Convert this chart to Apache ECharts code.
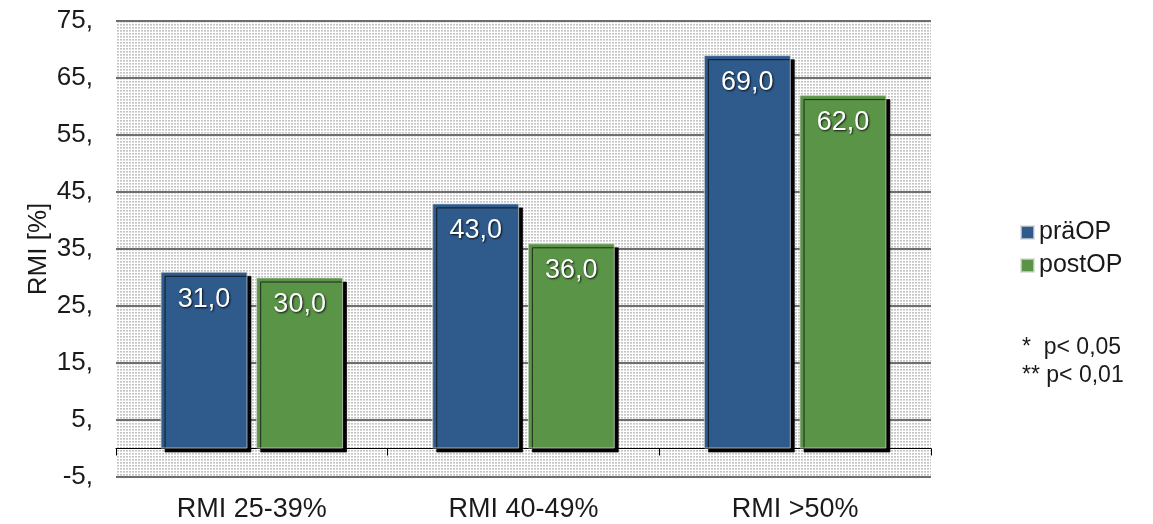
<!DOCTYPE html>
<html>
<head>
<meta charset="utf-8">
<script src="https://cdn.jsdelivr.net/npm/echarts@6/dist/echarts.min.js"></script>
<style>
  html, body { margin: 0; padding: 0; background: #ffffff; }
  #chart { width: 1153px; height: 524px; }
</style>
</head>
<body>
<div id="chart"></div>
<script>
// RMI groups and the share of patients before / after the operation
const categories = ['RMI 25-39%', 'RMI 40-49%', 'RMI >50%'];
const preOp = [31.0, 43.0, 69.0];
const postOp = [30.0, 36.0, 62.0];
const seriesNames = ['präOP', 'postOP'];
const significanceNotes = ['*  p< 0,05', '** p< 0,01'];

const FONT = '"Liberation Sans", Arial, sans-serif';
const BLUE = '#2e5a8c';
const GREEN = '#5a9447';

// fine dotted fill for the plotting area
function dotPattern() {
  const c = document.createElement('canvas');
  c.width = 3; c.height = 3;
  const g = c.getContext('2d');
  g.fillStyle = '#ffffff';
  g.fillRect(0, 0, 3, 3);
  g.fillStyle = '#c4c4c4';
  g.fillRect(0, 0, 2, 1);
  g.fillStyle = '#dadada';
  g.fillRect(0, 1, 2, 1);
  return c;
}

const decimalComma = v => v.toFixed(1).replace('.', ',');

const barLabel = {
  show: true,
  position: 'insideTop',
  distance: 14,
  color: '#ffffff',
  fontFamily: FONT,
  fontSize: 27,
  textShadowColor: 'rgba(0,0,0,0.85)',
  textShadowOffsetX: 1,
  textShadowOffsetY: 1,
  textShadowBlur: 2,
  formatter: p => decimalComma(p.value)
};

function barStyle(color) {
  return {
    color: color,
    borderColor: 'rgba(215,215,215,0.7)',
    borderWidth: 1,
    shadowColor: '#000000',
    shadowBlur: 0,
    shadowOffsetX: 4,
    shadowOffsetY: 4
  };
}

const chart = echarts.init(document.getElementById('chart'), null, { renderer: 'canvas' });

chart.setOption({
  animation: false,
  backgroundColor: '#ffffff',
  textStyle: { fontFamily: FONT },
  grid: {
    left: 116,
    right: 222,
    top: 21,
    bottom: 47,
    containLabel: false,
    outerBoundsMode: 'none',
    show: true,
    borderWidth: 0,
    backgroundColor: { image: dotPattern(), repeat: 'repeat' }
  },
  legend: {
    orient: 'vertical',
    left: 1015,
    top: 215,
    itemWidth: 13,
    itemHeight: 13,
    itemGap: 8,
    icon: 'rect',
    data: seriesNames,
    textStyle: { fontFamily: FONT, fontSize: 25, color: '#1a1a1a' }
  },
  xAxis: [
    {
      // category labels along the bottom of the plot
      type: 'category',
      data: categories,
      position: 'bottom',
      axisLine: { show: false, onZero: false },
      axisTick: { show: false },
      axisLabel: { margin: 19, fontFamily: FONT, fontSize: 27, color: '#1a1a1a' },
      splitLine: { show: false }
    },
    {
      // baseline at zero with ticks between the groups
      type: 'category',
      data: categories,
      position: 'bottom',
      axisLine: { show: true, onZero: true, lineStyle: { color: '#000000', width: 1 } },
      axisTick: { show: true, length: 7, alignWithLabel: false, lineStyle: { color: '#000000' } },
      axisLabel: { show: false },
      splitLine: { show: false }
    }
  ],
  yAxis: {
    type: 'value',
    min: -5,
    max: 75,
    interval: 10,
    name: 'RMI [%]',
    nameLocation: 'middle',
    nameGap: 64,
    nameMoveOverlap: false,
    nameTextStyle: { fontFamily: FONT, fontSize: 26, color: '#1a1a1a' },
    axisLine: { show: false },
    axisTick: { show: false },
    axisLabel: {
      margin: 23,
      fontFamily: FONT,
      fontSize: 26,
      color: '#1a1a1a',
      formatter: v => v + ','
    },
    splitLine: { show: true, lineStyle: { color: '#6e6e6e', width: 2 } }
  },
  graphic: significanceNotes.map((t, i) => ({
    type: 'text',
    left: 1022,
    top: 336 + i * 28,
    style: { text: t, fontFamily: FONT, fontSize: 23, fill: '#1a1a1a' }
  })),
  series: [
    {
      name: seriesNames[0],
      type: 'bar',
      xAxisIndex: 0,
      data: preOp,
      barWidth: '32%',
      barGap: '10%',
      itemStyle: barStyle(BLUE),
      label: barLabel
    },
    {
      name: seriesNames[1],
      type: 'bar',
      xAxisIndex: 0,
      data: postOp,
      barWidth: '32%',
      barGap: '10%',
      itemStyle: barStyle(GREEN),
      label: barLabel
    }
  ]
});
</script>
</body>
</html>
